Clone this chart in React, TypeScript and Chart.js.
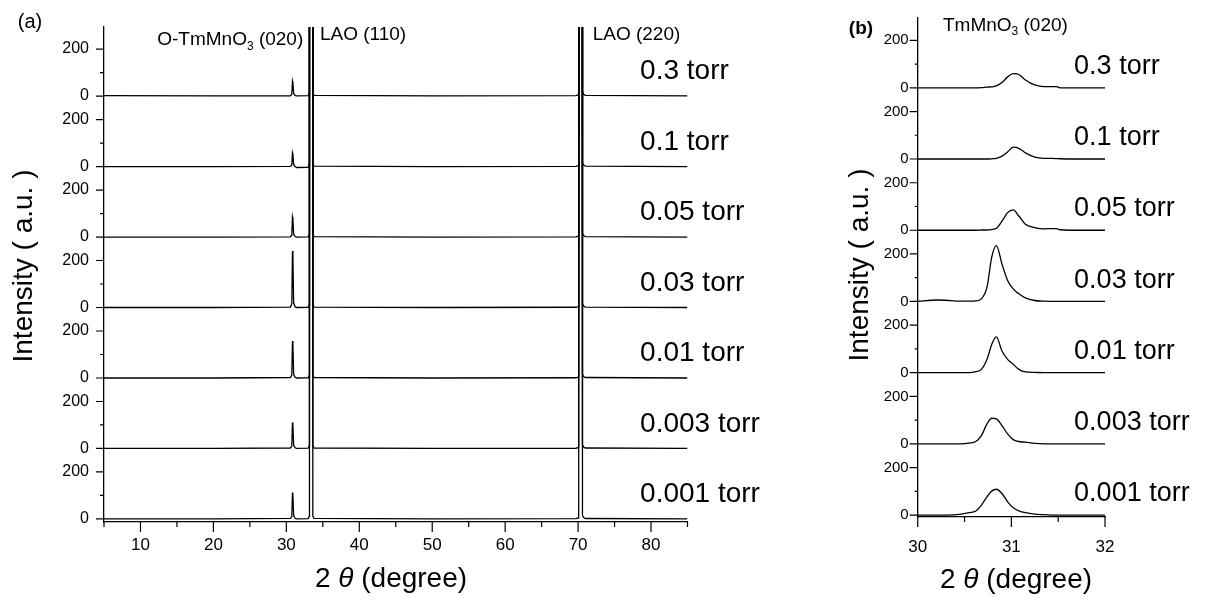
import React, { useEffect, useRef } from "react";
import { Chart, registerables } from "chart.js";

Chart.register(...registerables);

// ---------------- data ----------------
const pressures = ["0.3 torr", "0.1 torr", "0.05 torr", "0.03 torr", "0.01 torr", "0.003 torr", "0.001 torr"];

// panel (a): wide scan, 2θ in degree
const wideAngle = [5, 20, 30.55, 30.75, 30.84, 30.9, 31.0, 31.2, 31.4, 33.0, 33.12, 33.17, 33.58, 33.63, 33.8, 50, 69.7, 70.0, 70.08, 70.14, 70.55, 70.6, 70.75, 71.0, 85];
const wide0p3 = [2, 1, 1, 8, 63, 55, 12, 3, 1, 2, 12, 6000, 6000, 14, 3, 1, 2, 5, 15, 6000, 6000, 18, 8, 3, 1];
const wide0p1 = [0, 0, 1, 6, 58, 50, 10, 0, -4, -3, 10, 6000, 6000, 12, 2, 0, 1, 4, 14, 6000, 6000, 16, 6, 2, 0];
const wide0p05 = [0, 0, 1, 8, 85, 75, 12, 2, 0, 1, 10, 6000, 6000, 12, 2, 0, 1, 4, 14, 6000, 6000, 16, 6, 2, 0];
const wide0p03 = [0, 0, 2, 15, 240, 210, 20, 3, 0, 1, 10, 6000, 6000, 12, 2, 0, 1, 4, 14, 6000, 6000, 16, 6, 2, 0];
const wide0p01 = [0, 0, 2, 12, 157, 140, 16, 3, 0, 1, 10, 6000, 6000, 12, 2, 0, 1, 4, 14, 6000, 6000, 16, 6, 2, 0];
const wide0p003 = [0, 0, 2, 10, 110, 98, 14, 3, 0, 1, 10, 6000, 6000, 12, 2, 0, 1, 4, 14, 6000, 6000, 16, 6, 2, 0];
const wide0p001 = [0, 0, 2, 10, 112, 100, 14, 3, 0, 1, 10, 6000, 6000, 12, 2, 0, 1, 4, 14, 6000, 6000, 16, 6, 2, 0];
const wideSeries = [wide0p3, wide0p1, wide0p05, wide0p03, wide0p01, wide0p003, wide0p001];

// panel (b): TmMnO3 (020) region, 2θ in degree
const narrowAngle = [30, 30.2, 30.3, 30.45, 30.55, 30.62, 30.68, 30.74, 30.79, 30.84, 30.9, 30.96, 31.02, 31.08, 31.15, 31.25, 31.35, 31.48, 31.52, 31.7, 32];
const narrow0p3 = [0, 0, 0, 0, 0, 0, 1, 3, 4, 8, 22, 46, 60, 56, 33, 12, 5, 5, 0, 0, 0];
const narrow0p1 = [0, 0, 0, 0, 0, 0, 0, 0, 1, 3, 12, 30, 50, 45, 26, 8, 3, 2, 1, 0, 0];
const narrow0p05 = [0, 0, 0, 0, 0, 0, 1, 1, 3, 8, 38, 74, 86, 60, 25, 11, 6, 7, 2, 0, 0];
const narrow0p03 = [0, 6, 5, 1, 1, 2, 11, 60, 186, 235, 158, 88, 53, 32, 15, 4, 1, 0, 0, 0, 0];
const narrow0p01 = [0, 0, 0, 0, 0, 4, 14, 56, 119, 151, 91, 56, 35, 14, 3, 1, 0, 0, 0, 0, 0];
const narrow0p003 = [0, 0, 0, 0, 3, 10, 35, 84, 108, 105, 77, 42, 18, 10, 7, 2, 0, 0, 0, 0, 0];
const narrow0p001 = [0, 0, 0, 3, 10, 17, 42, 77, 101, 109, 91, 56, 31, 18, 10, 4, 2, 0, 0, 0, 0];
const narrowSeries = [narrow0p3, narrow0p1, narrow0p05, narrow0p03, narrow0p01, narrow0p003, narrow0p001];

// ticks
const wideXTicks = [5, 10, 15, 20, 25, 30, 35, 40, 45, 50, 55, 60, 65, 70, 75, 80, 85];
const wideXLabels = [10, 20, 30, 40, 50, 60, 70, 80];
const narrowXTicks = [30, 30.5, 31, 31.5, 32];
const narrowXLabels = [30, 31, 32];
const panelYTicks = [0, 100, 200];
const panelYLabels = ["0", "", "200"];

// annotations (data coordinates; level in counts within the top panel)
const wideNotes = [
  { parts: [{ text: "O-TmMnO" }, { text: "3", sub: true }, { text: " (020)" }], angle: 12.3, level: 238 },
  { parts: [{ text: "LAO (110)" }], angle: 34.6, level: 260 },
  { parts: [{ text: "LAO (220)" }], angle: 72.0, level: 260 },
];
const narrowNotes = [
  { parts: [{ text: "TmMnO" }, { text: "3", sub: true }, { text: " (020)" }], angle: 30.27, level: 260 },
];
const wideLabelAngle = 78.5;
const wideLabelLevel = 105;
const narrowLabelAngle = 31.67;
const narrowLabelLevel = 90;

// ---------------- layout / style ----------------
const PANEL_SPAN = 300;
const NPANELS = pressures.length;
const FONT = "'Liberation Sans', Arial, Helvetica, sans-serif";
const NARROW = "'Liberation Sans Narrow', 'Arial Narrow', 'Liberation Sans', Arial, sans-serif";

type Part = { text: string; sub?: boolean; italic?: boolean };

function fontFor(p: Part, size: number, bold: boolean) {
  const s = p.sub ? Math.round(size * 0.65) : size;
  return `${p.italic ? "italic " : ""}${bold ? "bold " : ""}${s}px ${FONT}`;
}

function drawRich(ctx: CanvasRenderingContext2D, parts: Part[], x: number, y: number, size: number, align: string, bold = false) {
  let total = 0;
  for (const p of parts) {
    ctx.font = fontFor(p, size, bold);
    total += ctx.measureText(p.text).width;
  }
  let cx = align === "center" ? x - total / 2 : align === "right" ? x - total : x;
  ctx.textAlign = "left";
  ctx.textBaseline = "middle";
  for (const p of parts) {
    ctx.font = fontFor(p, size, bold);
    ctx.fillText(p.text, cx, y + (p.sub ? size * 0.32 : 0));
    cx += ctx.measureText(p.text).width;
  }
}

function offsetOf(i: number) {
  return (NPANELS - 1 - i) * PANEL_SPAN;
}

function buildYTicks() {
  const out: { value: number }[] = [];
  for (let k = 0; k < NPANELS; k++) for (const v of panelYTicks) out.push({ value: k * PANEL_SPAN + v });
  return out;
}

function yLabel(value: number) {
  const r = ((value % PANEL_SPAN) + PANEL_SPAN) % PANEL_SPAN;
  const idx = panelYTicks.indexOf(r);
  return idx >= 0 ? panelYLabels[idx] : "";
}

function tickMarkPlugin(o: { xMajor: number[]; xMajorLen: number; xMinorLen: number; yMajorLen: number; yMinorLen: number }) {
  return {
    id: "tickMarks",
    afterDraw(chart: any) {
      const { ctx, chartArea } = chart;
      const xs = chart.scales.x;
      const ys = chart.scales.y;
      ctx.save();
      ctx.strokeStyle = "#000";
      ctx.lineWidth = 1.2;
      ctx.beginPath();
      for (const t of xs.ticks) {
        const len = o.xMajor.includes(t.value) ? o.xMajorLen : o.xMinorLen;
        const px = xs.getPixelForValue(t.value);
        ctx.moveTo(px, chartArea.bottom);
        ctx.lineTo(px, chartArea.bottom + len);
      }
      for (const t of ys.ticks) {
        const len = yLabel(t.value) !== "" ? o.yMajorLen : o.yMinorLen;
        const py = ys.getPixelForValue(t.value);
        ctx.moveTo(chartArea.left - len, py);
        ctx.lineTo(chartArea.left, py);
      }
      ctx.stroke();
      ctx.restore();
    },
  };
}

function textPlugin(o: {
  notes: { parts: Part[]; angle: number; level: number }[];
  labelAngle: number;
  labelLevel: number;
  labelSize: number;
  letter: string;
  letterPos: [number, number];
  letterSize: number;
  letterBold: boolean;
  yTitlePos: [number, number];
  xTitlePos: [number, number];
}) {
  return {
    id: "texts",
    afterDraw(chart: any) {
      const { ctx } = chart;
      const xs = chart.scales.x;
      const ys = chart.scales.y;
      ctx.save();
      ctx.fillStyle = "#000";
      // pressure labels
      pressures.forEach((p, i) => {
        drawRich(ctx, [{ text: p }], xs.getPixelForValue(o.labelAngle), ys.getPixelForValue(offsetOf(i) + o.labelLevel), o.labelSize, "left");
      });
      // peak labels (top panel)
      for (const n of o.notes) {
        drawRich(ctx, n.parts, xs.getPixelForValue(n.angle), ys.getPixelForValue(offsetOf(0) + n.level), 19, "left");
      }
      // panel letter
      drawRich(ctx, [{ text: o.letter }], o.letterPos[0], o.letterPos[1], o.letterSize, "center", o.letterBold);
      // axis titles
      drawRich(ctx, [{ text: "2 " }, { text: "θ", italic: true }, { text: " (degree)" }], o.xTitlePos[0], o.xTitlePos[1], 28, "center");
      ctx.save();
      ctx.translate(o.yTitlePos[0], o.yTitlePos[1]);
      ctx.rotate(-Math.PI / 2);
      drawRich(ctx, [{ text: "Intensity ( a.u. )" }], 0, 0, 28, "center");
      ctx.restore();
      ctx.restore();
    },
  };
}

function makeConfig(opts: {
  angles: number[];
  series: number[][];
  curved: boolean;
  xMin: number;
  xMax: number;
  yMin: number;
  yMax: number;
  xTicks: number[];
  xLabels: number[];
  padding: { left: number; top: number; right: number; bottom: number };
  yWidth: number;
  xHeight: number;
  xTickPad: number;
  yTickPad: number;
  ySize: number;
  ticks: any;
  texts: any;
}) {
  const datasets = opts.series.map((ys, i) => ({
    label: pressures[i],
    data: opts.angles.map((x, j) => ({ x, y: ys[j] + offsetOf(i) })),
    borderColor: "#000",
    backgroundColor: "#000",
    borderWidth: 1.3,
    pointRadius: 0,
    fill: false,
    tension: opts.curved ? 0.4 : 0,
    cubicInterpolationMode: opts.curved ? "monotone" : "default",
  }));
  return {
    type: "line",
    data: { datasets },
    options: {
      animation: false,
      responsive: false,
      maintainAspectRatio: false,
      events: [],
      layout: { padding: opts.padding },
      plugins: { legend: { display: false }, tooltip: { enabled: false }, title: { display: false } },
      scales: {
        x: {
          type: "linear",
          min: opts.xMin,
          max: opts.xMax,
          afterBuildTicks: (s: any) => {
            s.ticks = opts.xTicks.map((v) => ({ value: v }));
          },
          afterFit: (s: any) => {
            s.height = opts.xHeight;
          },
          ticks: {
            autoSkip: false,
            maxRotation: 0,
            minRotation: 0,
            padding: opts.xTickPad,
            color: "#000",
            font: { family: NARROW, size: 17 },
            callback: (v: number) => (opts.xLabels.includes(v) ? String(v) : ""),
          },
          grid: { display: true, drawOnChartArea: false, drawTicks: false },
          border: { display: true, color: "#000", width: 1.3 },
        },
        y: {
          type: "linear",
          min: opts.yMin,
          max: opts.yMax,
          afterBuildTicks: (s: any) => {
            s.ticks = buildYTicks();
          },
          afterFit: (s: any) => {
            s.width = opts.yWidth;
          },
          ticks: {
            autoSkip: false,
            padding: opts.yTickPad,
            color: "#000",
            font: { family: NARROW, size: opts.ySize },
            callback: (v: number) => yLabel(v),
          },
          grid: { display: true, drawOnChartArea: false, drawTicks: false },
          border: { display: true, color: "#000", width: 1.3 },
        },
      },
    },
    plugins: [opts.ticks, opts.texts],
  };
}

const A_W = 780;
const B_W = 1212 - A_W;
const H = 601;

export default function App() {
  const aRef = useRef<HTMLCanvasElement>(null);
  const bRef = useRef<HTMLCanvasElement>(null);

  useEffect(() => {
    const cfgA = makeConfig({
      angles: wideAngle,
      series: wideSeries,
      curved: false,
      xMin: 5,
      xMax: 85,
      yMin: -13,
      yMax: 2094,
      xTicks: wideXTicks,
      xLabels: wideXLabels,
      padding: { left: 0, top: 27, right: A_W - 687.5, bottom: 0 },
      yWidth: 104,
      xHeight: H - 522,
      xTickPad: 13,
      yTickPad: 15,
      ySize: 16,
      ticks: tickMarkPlugin({ xMajor: wideXLabels, xMajorLen: 10, xMinorLen: 5, yMajorLen: 8, yMinorLen: 4 }),
      texts: textPlugin({
        notes: wideNotes,
        labelAngle: wideLabelAngle,
        labelLevel: wideLabelLevel,
        labelSize: 28,
        letter: "(a)",
        letterPos: [30, 22],
        letterSize: 20,
        letterBold: false,
        yTitlePos: [24, 266],
        xTitlePos: [391, 579],
      }),
    });
    const cfgB = makeConfig({
      angles: narrowAngle,
      series: narrowSeries,
      curved: true,
      xMin: 30,
      xMax: 32,
      yMin: -8,
      yMax: 2094,
      xTicks: narrowXTicks,
      xLabels: narrowXLabels,
      padding: { left: 0, top: 16, right: B_W - (1105 - A_W), bottom: 0 },
      yWidth: 917.7 - A_W,
      xHeight: H - 517,
      xTickPad: 20,
      yTickPad: 9,
      ySize: 15,
      ticks: tickMarkPlugin({ xMajor: narrowXLabels, xMajorLen: 10, xMinorLen: 5, yMajorLen: 8, yMinorLen: 3 }),
      texts: textPlugin({
        notes: narrowNotes,
        labelAngle: narrowLabelAngle,
        labelLevel: narrowLabelLevel,
        labelSize: 27,
        letter: "(b)",
        letterPos: [861 - A_W, 29],
        letterSize: 19,
        letterBold: true,
        yTitlePos: [860 - A_W, 265],
        xTitlePos: [1016 - A_W, 580],
      }),
    });
    const a = new Chart(aRef.current as HTMLCanvasElement, cfgA as any);
    const b = new Chart(bRef.current as HTMLCanvasElement, cfgB as any);
    return () => {
      a.destroy();
      b.destroy();
    };
  }, []);

  return (
    <div style={{ position: "fixed", left: 0, top: 0, width: 1212, height: H, background: "#fff", overflow: "hidden" }}>
      <canvas ref={aRef} width={A_W} height={H} style={{ position: "absolute", left: 0, top: 0, width: A_W, height: H }} />
      <canvas ref={bRef} width={B_W} height={H} style={{ position: "absolute", left: A_W, top: 0, width: B_W, height: H }} />
    </div>
  );
}
